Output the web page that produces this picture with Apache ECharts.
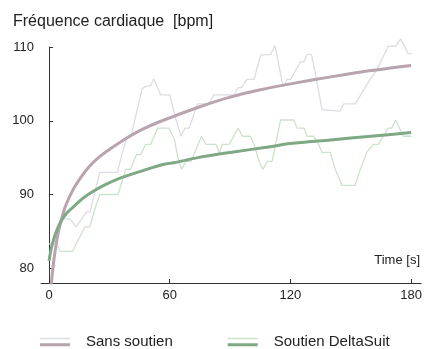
<!DOCTYPE html>
<html>
<head>
<meta charset="utf-8">
<script src="https://cdn.jsdelivr.net/npm/echarts@6/dist/echarts.min.js"></script>
<style>
  html, body { margin: 0; padding: 0; background: #fff; }
  #chart { width: 425px; height: 349px; }
</style>
</head>
<body>
<div id="chart"></div>
<script>
// mesures brutes (s, bpm)
const sansTime = [0, 2.5, 5.8, 10.4, 13.4, 18.6, 20.3, 25.2, 34, 36, 38.6, 40.6, 46.3, 48.6, 50.6, 52, 55.5, 60, 63.2, 65.6, 67.6, 69.7, 73, 73.8, 79.5, 81.8, 92, 94, 95.6, 98.3, 101.9, 105.2, 110.1, 112.3, 116.4, 118.4, 120, 125, 126.7, 128.2, 130.4, 132.4, 135.7, 144.7, 146.4, 152.2, 159.6, 162.9, 168.6, 172.3, 174.8, 178.5, 180.5];
const sansHr = [81.3, 84.5, 86.7, 86.7, 85.6, 87.6, 87.6, 93.0, 93.0, 95.2, 97.7, 97.7, 104.4, 104.7, 104.8, 105.7, 103.5, 103.5, 100.1, 97.9, 99.0, 99.0, 101.7, 102.3, 102.3, 103.5, 103.5, 104.5, 104.5, 105.6, 105.6, 108.9, 109.0, 110.2, 104.6, 105.6, 105.6, 108.0, 108.0, 109.0, 109.0, 106.4, 101.5, 101.3, 102.3, 102.3, 105.6, 106.9, 110.1, 110.1, 111.1, 109.1, 109.1];

const deltaTime = [0, 3.8, 5.5, 11.7, 17.8, 20.3, 22.5, 25.2, 34.3, 38.1, 40.5, 43.4, 45.5, 48, 50.5, 54, 59.5, 62.3, 64, 65.9, 68.1, 70.6, 75.8, 78, 82.9, 84.6, 86.2, 89.5, 94, 96.1, 100.2, 101.9, 104.4, 106.3, 108.5, 110.9, 112.6, 115.1, 121.7, 123.3, 126.7, 128.2, 131.5, 134, 135.7, 139.8, 142.3, 145.6, 152.2, 154.7, 157.9, 161.2, 163.7, 168.6, 170.3, 172.3, 176.1, 180.2];
const deltaHr = [83.3, 83.3, 82.3, 82.3, 85.6, 85.6, 87.8, 90.0, 90.0, 93.4, 93.4, 95.4, 95.4, 96.8, 96.8, 99.0, 99.0, 97.5, 95.0, 93.4, 94.5, 94.5, 97.9, 96.8, 96.8, 95.7, 96.8, 96.8, 99.0, 97.9, 97.9, 96.8, 94.5, 93.4, 94.5, 94.5, 96.8, 100.1, 100.1, 99.0, 99.0, 97.9, 97.9, 96.8, 95.7, 95.7, 93.4, 91.25, 91.25, 93.4, 95.7, 96.8, 96.8, 99.0, 99.0, 100.1, 97.9, 97.9];

// courbes ajustées
const sansFitTime = [1, 2, 3, 4, 5.5, 8, 12, 16, 20, 25, 30, 40, 50, 60, 75, 90, 105, 120, 140, 160, 180];
const sansFitHr = [77.6, 80.2, 82.3, 84.0, 85.9, 88.3, 90.7, 92.4, 93.8, 95.1, 96.1, 97.9, 99.3, 100.4, 101.9, 103.2, 104.2, 105.0, 105.95, 106.8, 107.5];
const deltaFitTime = [0, 1, 2, 3, 4.6, 6.5, 8.8, 12, 16, 20, 27, 35, 45, 57, 62, 74, 90, 108, 120, 140, 160, 180];
const deltaFitHr = [81.0, 82.6, 83.6, 84.5, 85.6, 86.6, 87.5, 88.3, 89.3, 90.1, 91.2, 92.2, 93.1, 94.1, 94.3, 95.0, 95.7, 96.4, 96.9, 97.4, 97.9, 98.4];

const xTicks = [0, 60, 120, 180];
const yTicks = [80, 90, 100, 110];

const FONT = '"Liberation Sans", Arial, sans-serif';
const zip = (xs, ys) => xs.map((x, i) => [x, ys[i]]);

// icône de légende : trait clair + trait épais
const ICON = 'path://M0,0H30V1.5H0Z M0,5.5H30V8.5H0Z';
const twoTone = (light, dark) => ({
  type: 'linear', x: 0, y: 0, x2: 0, y2: 1,
  colorStops: [
    { offset: 0, color: light }, { offset: 0.5, color: light },
    { offset: 0.5, color: dark }, { offset: 1, color: dark }
  ]
});

const chart = echarts.init(document.getElementById('chart'));

const option = {
  animation: false,
  textStyle: { fontFamily: FONT },
  title: {
    text: 'Fréquence cardiaque  [bpm]',
    left: 8,
    top: 9,
    textStyle: { fontSize: 16, fontWeight: 'normal', color: '#222', fontFamily: FONT }
  },
  grid: { left: 41, right: 2, top: 47, bottom: 66 },
  legend: {
    left: 40,
    top: 333,
    padding: 0,
    itemWidth: 30,
    itemHeight: 9,
    itemGap: 55,
    selectedMode: false,
    textStyle: { fontSize: 15, lineHeight: 18, color: '#222', fontFamily: FONT, padding: [0, 0, 0, 11] },
    data: [
      { name: 'Sans soutien', icon: ICON, itemStyle: { color: twoTone('#dedbe6', '#b9a3ae') } },
      { name: 'Soutien DeltaSuit', icon: ICON, itemStyle: { color: twoTone('#cde2cd', '#7fa884') } }
    ]
  },
  graphic: [
    {
      type: 'text',
      right: 5,
      top: 254,
      style: { text: 'Time [s]', fontSize: 13, fill: '#222', fontFamily: FONT }
    }
  ],
  xAxis: {
    type: 'value',
    min: -4,
    max: 185,
    axisLine: { lineStyle: { color: '#333', width: 1 } },
    axisTick: { show: true, inside: true, length: 4, customValues: xTicks, lineStyle: { color: '#333' } },
    axisLabel: { customValues: xTicks, fontSize: 13, color: '#222', margin: 6, fontFamily: FONT },
    splitLine: { show: false }
  },
  yAxis: {
    type: 'value',
    min: 78,
    max: 110,
    axisLine: { show: true, lineStyle: { color: '#333', width: 1 } },
    axisTick: { show: true, inside: true, length: 4, customValues: yTicks, lineStyle: { color: '#333' } },
    axisLabel: { customValues: yTicks, fontSize: 13, color: '#222', margin: 7, fontFamily: FONT },
    splitLine: { show: false }
  },
  series: [
    {
      name: 'Sans soutien',
      type: 'line',
      data: zip(sansTime, sansHr),
      symbol: 'none',
      clip: false,
      lineStyle: { color: '#dedbe6', width: 1.3 },
      itemStyle: { color: '#dedbe6' },
      z: 1
    },
    {
      name: 'Soutien DeltaSuit',
      type: 'line',
      data: zip(deltaTime, deltaHr),
      symbol: 'none',
      clip: false,
      lineStyle: { color: '#cde2cd', width: 1.3 },
      itemStyle: { color: '#cde2cd' },
      z: 1
    },
    {
      name: 'Sans soutien',
      type: 'line',
      data: zip(sansFitTime, sansFitHr),
      symbol: 'none',
      smooth: 0.3,
      lineStyle: { color: '#b9a3ae', width: 3 },
      itemStyle: { color: '#b9a3ae' },
      z: 3
    },
    {
      name: 'Soutien DeltaSuit',
      type: 'line',
      data: zip(deltaFitTime, deltaFitHr),
      symbol: 'none',
      smooth: 0.3,
      lineStyle: { color: '#7fa884', width: 3 },
      itemStyle: { color: '#7fa884' },
      z: 3
    }
  ]
};

chart.setOption(option);

window.addEventListener('resize', () => {
  chart.resize();
});
</script>
</body>
</html>
